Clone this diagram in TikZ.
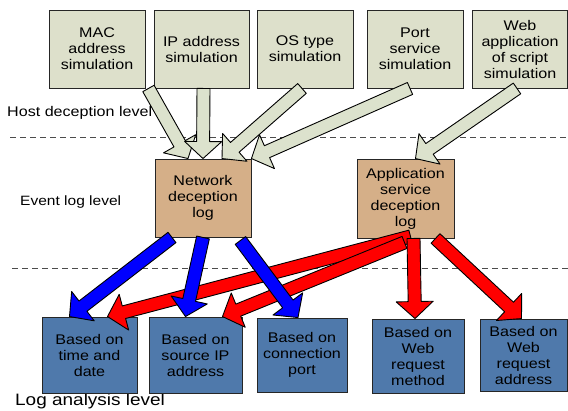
\documentclass[tikz,border=0pt]{standalone}
\usepackage{fontspec}
\setmainfont{Liberation Sans}[FakeStretch=1.15]
\usepackage{tikz}
\usetikzlibrary{%
  calc
}
\definecolor{kaki}{HTML}{DDE0CB}
\definecolor{fauve}{HTML}{D5AF88}
\definecolor{acier}{HTML}{4F79AB}
\definecolor{pale}{HTML}{DCE2CD}

% fleche pleine : queue, pointe, couleur
\def\corps{6.5pt}
\def\aile{18.5pt}
\def\tete{17pt}
\newcommand{\fleche}[3]{%
  \coordinate (base) at ($(#2)!\tete!(#1)$) ;
  \draw [fill=#3, line width=0.9pt, line join=round]
        ($(#1)!\corps!90:(#2)$) -- ($(base)!\corps!90:(#2)$)
     -- ($(base)!\aile!90:(#2)$) -- (#2)
     -- ($(base)!\aile!-90:(#2)$) -- ($(base)!\corps!-90:(#2)$)
     -- ($(#1)!\corps!-90:(#2)$) -- cycle ;
}

\begin{document}
\begin{tikzpicture}[
  x=1pt, y=-1pt,
  thin,
  boite/.style={draw=black!85, line width=0.9pt, inner sep=0pt,
                align=center, font=\fontsize{14}{16}\selectfont},
  simul/.style={boite, fill=kaki, minimum width=96pt, minimum height=78pt},
  journal/.style={boite, fill=fauve, minimum width=96pt, minimum height=78pt},
  analyse/.style={boite, fill=acier, minimum width=93pt, minimum height=76pt},
  niveau/.style={anchor=west, inner sep=0pt},
  pointilles/.style={dashed, dash pattern=on 6pt off 4pt, black!70, line width=0.8pt},
]
  \useasboundingbox (0,0) rectangle (568,410) ;

  % niveaux
  \node [niveau, font=\fontsize{14}{16}\selectfont] (hote) at (7,113)
        {Host deception level} ;
  \node [niveau, font=\fontsize{13.5}{16}\selectfont] (evenement) at (20,202)
        {Event log level} ;
  \node [niveau, font=\fontsize{16.5}{18}\selectfont] (analyse) at (15,401)
        {Log analysis level} ;
  \draw [pointilles] (10,137) -- (568,137) ;
  \draw [pointilles] (12,268) -- (568,268) ;

  % simulation
  \node [simul] (mac)  at ( 97,49) {MAC\\address\\simulation} ;
  \node [simul, minimum width=95pt] (ip) at (201.5,49) {IP address\\simulation} ;
  \node [simul] (os)   at (305,49) {OS type\\simulation} ;
  \node [simul] (port) at (415,49) {Port\\service\\simulation} ;
  \node [simul, minimum width=95pt] (web) at (520,49)
        {Web\\application\\of script\\simulation} ;

  % journaux
  \node [journal] (reseau) at (203,198) {Network\\deception\\log} ;
  \node [journal, minimum width=97pt, minimum height=79pt] (appli) at (405.5,198.5)
        {Application\\service\\deception\\log} ;

  % analyse
  \node [analyse, minimum width=95pt] (temps) at (89.5,355) {Based on\\time and\\date} ;
  \node [analyse] (source) at (195.5,355) {Based on\\source IP\\address} ;
  \node [analyse, minimum width=90pt, minimum height=74pt] (connexion) at (302,355)
        {Based on\\connection\\port} ;
  \node [analyse, minimum width=92pt, minimum height=74pt] (methode) at (418,356)
        {Based on\\Web\\request\\method} ;
  \node [analyse, minimum width=87pt, minimum height=72pt] (adresse) at (523.5,355)
        {Based on\\Web\\request\\address} ;

  % vers les journaux
  \coordinate (q1) at ($(mac.south east)+(3,0)$) ;
  \coordinate (p1) at ($(reseau.north)+(-15,0)$) ;
  \coordinate (q2) at ($(ip.south)+(2,0)$) ;
  \coordinate (q3) at ($(os.south)+(-3,0)$) ;
  \coordinate (p3) at ($(reseau.north)+(19,0)$) ;
  \coordinate (q4) at ($(port.south)+(-5,0)$) ;
  \coordinate (q5) at ($(web.south)+(-3,0)$) ;
  \coordinate (p5) at ($(appli.north)+(10,0)$) ;
  \fleche{q1}{p1}{pale}
  \fleche{q2}{reseau.north}{pale}
  \fleche{q3}{p3}{pale}
  \fleche{q4}{reseau.north east}{pale}
  \fleche{q5}{p5}{pale}

  % vers l'analyse
  \coordinate (r1) at ($(appli.south)+(5,-2)$) ;
  \coordinate (s1) at ($(temps.north)+(18,0)$) ;
  \coordinate (r2) at ($(appli.south)+(-1,4)$) ;
  \coordinate (s2) at ($(source.north)+(27,0)$) ;
  \coordinate (r3) at ($(appli.south)+(8,0)$) ;
  \coordinate (s3) at ($(methode.north)+(-3,0)$) ;
  \coordinate (r4) at ($(appli.south)+(30,0)$) ;
  \coordinate (s4) at ($(adresse.north)+(-2,0)$) ;
  \fleche{r1}{s1}{red}
  \fleche{r2}{s2}{red}
  \fleche{r3}{s3}{red}
  \fleche{r4}{s4}{red}

  \coordinate (b1) at ($(reseau.south)+(-31,0)$) ;
  \coordinate (c1) at ($(temps.north)+(-20,0)$) ;
  \coordinate (c2) at ($(source.north)+(-10,0)$) ;
  \coordinate (b3) at ($(reseau.south east)+(-11,3)$) ;
  \coordinate (c3) at ($(connexion.north)+(-4,0)$) ;
  \fleche{b1}{c1}{blue}
  \fleche{reseau.south}{c2}{blue}
  \fleche{b3}{c3}{blue}
\end{tikzpicture}
\end{document}
